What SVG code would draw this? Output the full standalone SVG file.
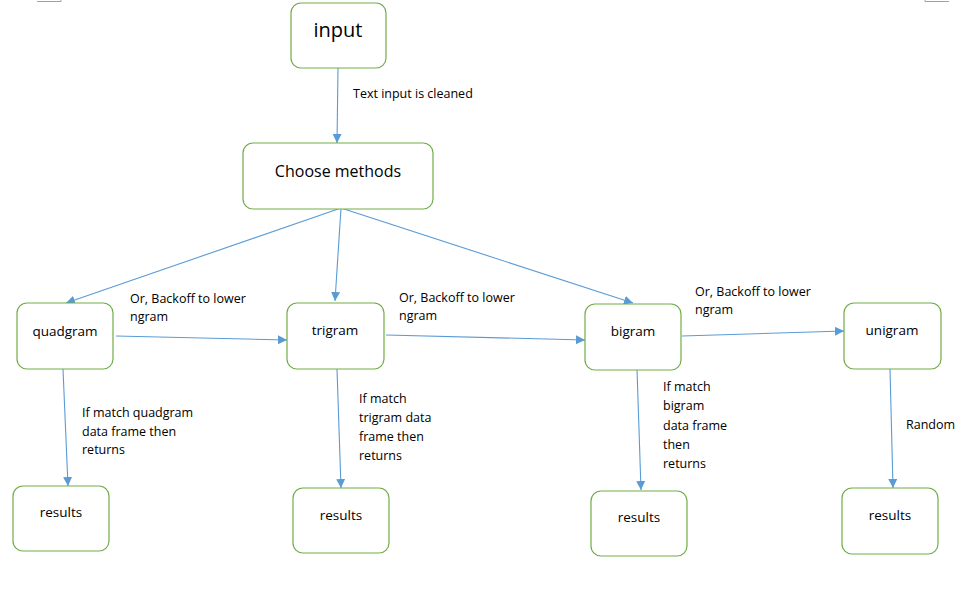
<svg xmlns="http://www.w3.org/2000/svg" width="978" height="597" viewBox="0 0 978 597">
<defs>
<style>
.box{fill:#fff;stroke:#70AD47;stroke-width:1.2}
.lbl{font-family:"Open Sans","Liberation Sans",sans-serif;font-size:12.5px;fill:#000}
.nt{font-family:"Open Sans","Liberation Sans",sans-serif;font-size:13.5px;fill:#000;text-anchor:middle}
.c{stroke:#5B9BD5;stroke-width:1.1;fill:none;marker-end:url(#ah)}
.crop{stroke:#a0a0a0;stroke-width:1;fill:none}
</style>
<marker id="ah" viewBox="0 0 10 10" refX="10" refY="5" markerWidth="9" markerHeight="9" markerUnits="userSpaceOnUse" orient="auto">
<path d="M0,0 L10,5 L0,10 z" fill="#5B9BD5"/>
</marker>
</defs>
<rect width="978" height="597" fill="#fff"/>
<path class="crop" d="M37,1.5 H61 V0"/>
<path class="crop" d="M925,0 V1.5 H949"/>

<g id="connectors">
<path class="c" d="M338,68 L337,143"/>
<path class="c" d="M341,208 L66,303"/>
<path class="c" d="M341,208 L335,301"/>
<path class="c" d="M341,208 L633,303"/>
<path class="c" d="M116,336 L287,340"/>
<path class="c" d="M386,335 L585,340"/>
<path class="c" d="M682,336 L844,331"/>
<path class="c" d="M63,369 L68,486"/>
<path class="c" d="M337,369 L341,488"/>
<path class="c" d="M637,369 L641,490"/>
<path class="c" d="M890,369 L893,488"/>
</g>

<g id="edge-labels">
<text class="lbl" x="353" y="98">Text input is cleaned</text>
<text class="lbl" x="130" y="303">Or, Backoff to lower</text>
<text class="lbl" x="130" y="321">ngram</text>
<text class="lbl" x="399" y="302">Or, Backoff to lower</text>
<text class="lbl" x="399" y="320">ngram</text>
<text class="lbl" x="695" y="296">Or, Backoff to lower</text>
<text class="lbl" x="695" y="314">ngram</text>
<text class="lbl" x="82" y="417">If match quadgram</text>
<text class="lbl" x="82" y="436">data frame then</text>
<text class="lbl" x="82" y="454">returns</text>
<text class="lbl" x="359" y="403">If match</text>
<text class="lbl" x="359" y="422">trigram data</text>
<text class="lbl" x="359" y="441">frame then</text>
<text class="lbl" x="359" y="460">returns</text>
<text class="lbl" x="663" y="391">If match</text>
<text class="lbl" x="663" y="410">bigram</text>
<text class="lbl" x="663" y="430">data frame</text>
<text class="lbl" x="663" y="449">then</text>
<text class="lbl" x="663" y="468">returns</text>
<text class="lbl" x="906" y="429">Random</text>
</g>

<g id="input"><rect class="box" x="291" y="3" width="95" height="65" rx="10"/><text class="nt" x="338" y="37" style="font-size:20px">input</text></g>
<g id="choose"><rect class="box" x="243" y="143" width="190" height="66" rx="10"/><text class="nt" x="338" y="177" style="font-size:16px">Choose methods</text></g>
<g id="quadgram"><rect class="box" x="17" y="303" width="96" height="66" rx="10"/><text class="nt" x="65" y="336">quadgram</text></g>
<g id="trigram"><rect class="box" x="287" y="303" width="97" height="66" rx="10"/><text class="nt" x="335" y="335">trigram</text></g>
<g id="bigram"><rect class="box" x="585" y="304" width="96" height="66" rx="10"/><text class="nt" x="633" y="336">bigram</text></g>
<g id="unigram"><rect class="box" x="844" y="303" width="97" height="66" rx="10"/><text class="nt" x="892" y="335">unigram</text></g>
<g id="results-quadgram"><rect class="box" x="13" y="486" width="96" height="65" rx="10"/><text class="nt" x="61" y="517">results</text></g>
<g id="results-trigram"><rect class="box" x="293" y="488" width="96" height="65" rx="10"/><text class="nt" x="341" y="520">results</text></g>
<g id="results-bigram"><rect class="box" x="591" y="491" width="96" height="65" rx="10"/><text class="nt" x="639" y="522">results</text></g>
<g id="results-unigram"><rect class="box" x="842" y="488" width="96" height="66" rx="10"/><text class="nt" x="890" y="520">results</text></g>
</svg>
